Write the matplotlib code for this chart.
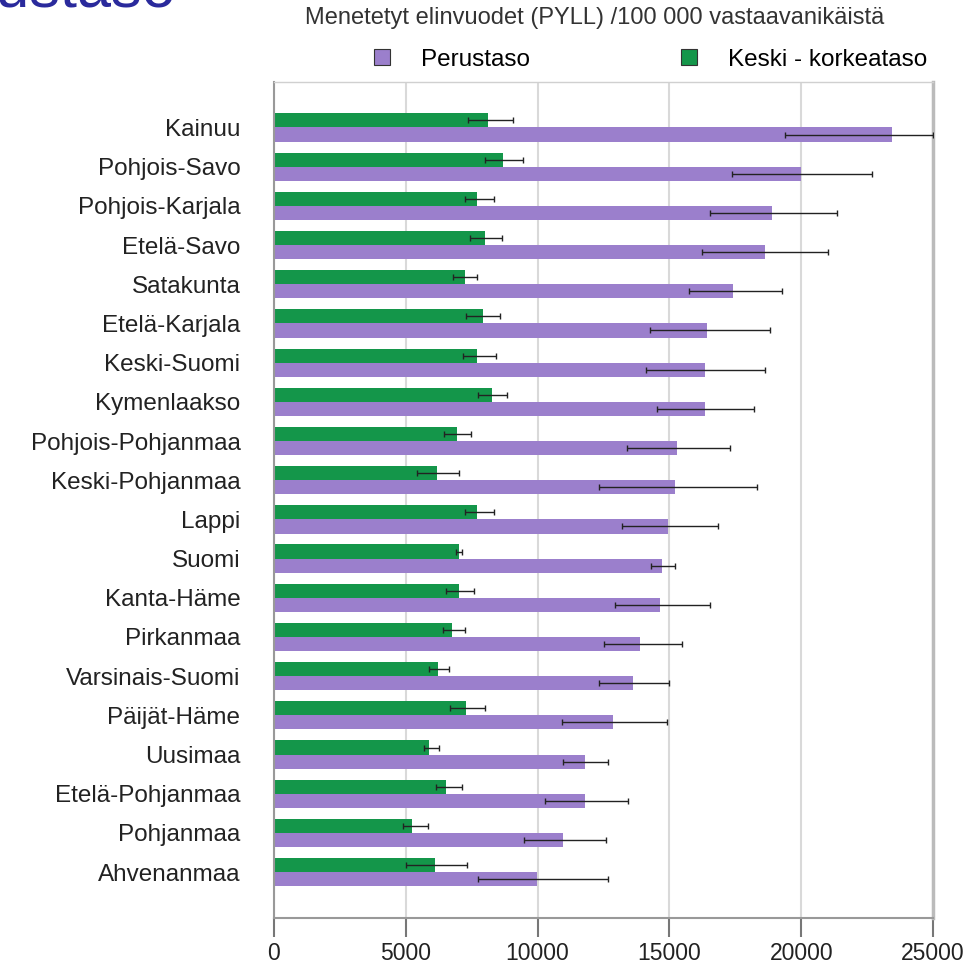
import numpy as np
import matplotlib.pyplot as plt
from matplotlib.patches import Patch

plt.rcParams['font.family'] = ['Liberation Sans', 'DejaVu Sans']

regions = ['Kainuu', 'Pohjois-Savo', 'Pohjois-Karjala', 'Etelä-Savo', 'Satakunta',
           'Etelä-Karjala', 'Keski-Suomi', 'Kymenlaakso', 'Pohjois-Pohjanmaa',
           'Keski-Pohjanmaa', 'Lappi', 'Suomi', 'Kanta-Häme', 'Pirkanmaa',
           'Varsinais-Suomi', 'Päijät-Häme', 'Uusimaa', 'Etelä-Pohjanmaa',
           'Pohjanmaa', 'Ahvenanmaa']

# Keski - korkeataso (green)
high = [8140, 8700, 7710, 8020, 7240, 7930, 7710, 8270, 6950, 6190,
        7710, 7030, 7030, 6750, 6240, 7290, 5880, 6530, 5250, 6100]
high_lo = [7370, 8020, 7240, 7420, 6780, 7290, 7170, 7750, 6470, 5420,
           7250, 6900, 6530, 6410, 5900, 6690, 5710, 6140, 4880, 5000]
high_hi = [9070, 9440, 8360, 8640, 7710, 8590, 8440, 8860, 7460, 7030,
           8360, 7150, 7590, 7240, 6660, 8020, 6270, 7120, 5850, 7320]

# Perustaso (purple)
basic = [23440, 20000, 18900, 18610, 17420, 16440, 16360, 16360, 15300, 15220,
         14950, 14710, 14660, 13900, 13610, 12850, 11810, 11810, 10950, 9970]
basic_lo = [19400, 17370, 16530, 16240, 15730, 14270, 14120, 14540, 13390, 12320,
            13190, 14320, 12920, 12510, 12320, 10930, 10980, 10290, 9490, 7750]
basic_hi = [25000, 22700, 21360, 21020, 19270, 18810, 18610, 18220, 17290, 18340,
            16860, 15200, 16530, 15460, 14970, 14920, 12660, 13420, 12580, 12660]

xticks = [0, 5000, 10000, 15000, 20000, 25000]

purple = '#9b7fcc'
green = '#14964a'

fig = plt.figure(figsize=(9.71, 9.66), dpi=100)
ax = fig.add_axes([0.282, 0.0497, 0.679, 0.8654])

y = np.arange(len(regions))
h = 0.36
high = np.array(high)
basic = np.array(basic)

ax.barh(y - h / 2, high, height=h, color=green, zorder=2)
ax.barh(y + h / 2, basic, height=h, color=purple, zorder=2)

ax.errorbar(high, y - h / 2, xerr=[high - np.array(high_lo), np.array(high_hi) - high],
            fmt='none', ecolor='#222222', elinewidth=1.0, capsize=2, capthick=1.0, zorder=3)
ax.errorbar(basic, y + h / 2, xerr=[basic - np.array(basic_lo), np.array(basic_hi) - basic],
            fmt='none', ecolor='#222222', elinewidth=1.0, capsize=2, capthick=1.0, zorder=3)

ax.set_xlim(0, 25000)
ax.set_ylim(len(regions) - 1 + 1.17, -1.16)
ax.set_yticks(y)
ax.set_yticklabels(regions, fontsize=17.5, color='#222222')
ax.set_xticks(xticks)
ax.set_xticklabels([str(t) for t in xticks], fontsize=16.5, color='#222222')
ax.tick_params(axis='y', length=0, pad=24)
ax.tick_params(axis='x', length=14, width=1.5, color='#777777', pad=3)

ax.grid(axis='x', color='#d9d9d9', linewidth=1.5, zorder=0)
ax.set_axisbelow(True)
for side in ['left', 'bottom']:
    ax.spines[side].set_color('#999999')
    ax.spines[side].set_linewidth(1.5)
ax.spines['top'].set_color('#d0d0d0')
ax.spines['top'].set_linewidth(1.0)
ax.spines['right'].set_color('#bbbbbb')
ax.spines['right'].set_linewidth(2.5)

fig.text(0.612, 0.981, 'Menetetyt elinvuodet (PYLL) /100 000 vastaavanikäistä',
         fontsize=17, color='#333333', ha='center', va='center')

handles = [Patch(facecolor=purple, edgecolor='#333333', linewidth=0.8),
           Patch(facecolor=green, edgecolor='#333333', linewidth=0.8)]
fig.legend(handles, ['Perustaso', 'Keski - korkeataso'], ncol=2, frameon=False,
           loc='center', bbox_to_anchor=(0.67, 0.938), fontsize=17.5,
           handlelength=0.65, handleheight=0.65, handletextpad=1.3, columnspacing=6.2)

# cut-off slide heading at the top-left corner
fig.text(0.182, 0.9928, 'koulutustaso', fontsize=44, color='#2a2a9c',
         ha='right', va='baseline')

fig.savefig('out.png', dpi=100)
